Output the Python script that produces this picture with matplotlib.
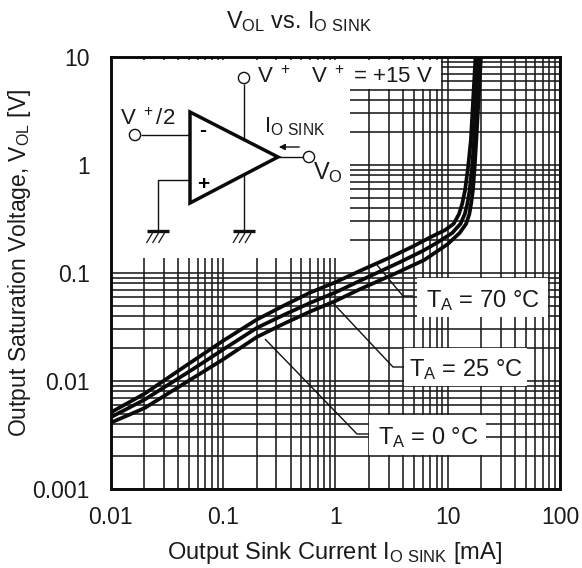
import matplotlib
matplotlib.use('Agg')
import matplotlib.pyplot as plt
from matplotlib.patches import Rectangle, Circle, Polygon

plt.rcParams['font.family'] = ['Liberation Sans', 'DejaVu Sans']
plt.rcParams['mathtext.default'] = 'regular'
plt.rcParams['mathtext.fontset'] = 'custom'
plt.rcParams['mathtext.rm'] = 'Liberation Sans'

# I [mA] / V [V]
i_70 = [0.01, 0.02, 0.05, 0.1, 0.2, 0.35, 0.6, 1, 1.67, 3.1, 5, 7, 9.5, 11.3, 12.6, 13.5, 14.3, 15.2, 16.1, 17.7]
v_70 = [0.0051, 0.0076, 0.0145, 0.0235, 0.037, 0.05, 0.066, 0.082, 0.105, 0.14, 0.178, 0.214, 0.25, 0.285, 0.35, 0.44, 0.586, 0.95, 1.7, 10]
i_25 = [0.01, 0.02, 0.05, 0.1, 0.2, 0.35, 0.6, 1, 1.67, 3.7, 6, 8, 11, 13, 14.2, 15, 15.7, 16.5, 17.2, 18.8]
v_25 = [0.0046, 0.0067, 0.0122, 0.0195, 0.031, 0.041, 0.053, 0.066, 0.085, 0.125, 0.16, 0.19, 0.235, 0.285, 0.35, 0.44, 0.586, 0.95, 1.7, 10]
i_0 = [0.01, 0.02, 0.05, 0.1, 0.2, 0.35, 0.6, 1, 1.67, 3.5, 6.2, 10, 12.8, 14.6, 15.6, 16.2, 16.8, 17.4, 18, 19.8]
v_0 = [0.0041, 0.0056, 0.0101, 0.0158, 0.0255, 0.034, 0.044, 0.055, 0.071, 0.1, 0.132, 0.185, 0.235, 0.285, 0.35, 0.44, 0.586, 0.95, 1.7, 10]

x_ticks = [0.01, 0.1, 1, 10, 100]
x_labels = ['0.01', '0.1', '1', '10', '100']
y_ticks = [0.001, 0.01, 0.1, 1, 10]
y_labels = ['0.001', '0.01', '0.1', '1', '10']

W, H = 582, 568
fig = plt.figure(figsize=(W / 100, H / 100), dpi=100)
ax = fig.add_axes([110.5 / W, 1 - 489 / H, 449.5 / W, 432 / H])

ax.set_xscale('log')
ax.set_yscale('log')
ax.set_xlim(0.01, 100)
ax.set_ylim(0.001, 10)
ax.grid(True, which='both', color='#1a1a1a', lw=1.15)
ax.set_axisbelow(True)
ax.set_xticks(x_ticks, x_labels)
ax.set_yticks(y_ticks, y_labels)
ax.tick_params(which='both', length=0, labelsize=16.5, colors='#1a1a1a')
ax.tick_params(axis='x', pad=12)
ax.tick_params(axis='y', pad=15)
for s in ax.spines.values():
    s.set_linewidth(2.1)
    s.set_color('#0a0a0a')

for x, y in [(i_70, v_70), (i_25, v_25), (i_0, v_0)]:
    ax.plot(x, y, color='#0a0a0a', lw=2.7, solid_joinstyle='round', zorder=3)

fig.text(299 / W, 1 - 28 / H, r'V$_{OL}$ vs. I$_{O\ SINK}$', fontsize=16.8,
         ha='center', va='baseline', color='#1a1a1a')
fig.text(335 / W, 1 - 553 / H, r'Output Sink Current I$_{O\ SINK}$ [mA]', fontsize=17,
         ha='center', va='center', color='#1a1a1a')
fig.text(20 / W, 1 - 263 / H, r'Output Saturation Voltage, V$_{OL}$ [V]', fontsize=16.5, rotation=90,
         ha='center', va='center', color='#1a1a1a')

# overlay in pixel coordinates for the schematic and the callouts
ov = fig.add_axes([0, 0, 1, 1], facecolor='none', zorder=5)
ov.set_xlim(0, W)
ov.set_ylim(H, 0)
ov.axis('off')

def white(x0, y0, x1, y1):
    ov.add_patch(Rectangle((x0, y0), x1 - x0, y1 - y0, fc='white', ec='none', zorder=1))

def wire(xs, ys, lw=1.0):
    ov.plot(xs, ys, color='#111111', lw=lw, zorder=2, solid_capstyle='butt')

def node(x, y):
    ov.add_patch(Circle((x, y), 5.6, fc='white', ec='#111111', lw=1.0, zorder=3))

def ground(x):
    wire([x - 11, x + 11], [231, 231], lw=2.4)
    for dx in (-6, 0, 6):
        wire([x + dx + 1, x + dx - 5], [233, 243], lw=0.9)

white(113, 60, 350, 258)
white(350, 60, 441, 89)
white(417, 278, 548, 317)
white(404, 348, 527, 386)
white(369, 415, 486, 455)

wire([244, 244], [84, 231])
wire([141, 190], [135, 135])
wire([190, 157.5, 157.5], [180, 180, 231])
wire([278, 303], [157, 157])
ov.add_patch(Polygon([(190, 112), (190, 203), (278, 157)], closed=True, fc='white', ec='#0a0a0a',
                     lw=2.5, zorder=2.5))
node(244, 78)
node(135, 135)
node(309, 157)
ground(244)
ground(157.5)
ov.annotate('', xy=(276, 147), xytext=(302, 147),
            arrowprops=dict(arrowstyle='-|>', color='#111111', lw=1.0, mutation_scale=9), zorder=3)

ov.text(203, 131, '-', fontsize=15, fontweight='bold', ha='center', va='center', zorder=4)
ov.text(203, 185, '+', fontsize=15, fontweight='bold', ha='center', va='center', zorder=4)
ov.text(257, 83, r'V$^{\ +}$', fontsize=16, va='baseline', zorder=4, color='#1a1a1a')
ov.text(311, 83, r'V$^{\ +}$ = +15 V', fontsize=16, va='baseline', zorder=4, color='#1a1a1a')
ov.text(120, 125, r'V$^{\ +}$/2', fontsize=16, va='baseline', zorder=4, color='#1a1a1a')
ov.text(264, 132, r'I$_{O\ SINK}$', fontsize=16, va='baseline', zorder=4, color='#1a1a1a')
ov.text(313, 179, r'V$_{O}$', fontsize=17, va='baseline', zorder=4, color='#1a1a1a')

wire([377, 403, 413], [265, 296, 296])
wire([332, 393, 404], [302, 367, 367])
wire([265, 357, 369], [339, 434, 434])

ov.text(426, 307, r'T$_{A}$ = 70 °C', fontsize=17, va='baseline', zorder=4, color='#1a1a1a')
ov.text(409, 376, r'T$_{A}$ = 25 °C', fontsize=17, va='baseline', zorder=4, color='#1a1a1a')
ov.text(378, 444, r'T$_{A}$ = 0 °C', fontsize=17, va='baseline', zorder=4, color='#1a1a1a')

fig.savefig('out.png', dpi=100)
